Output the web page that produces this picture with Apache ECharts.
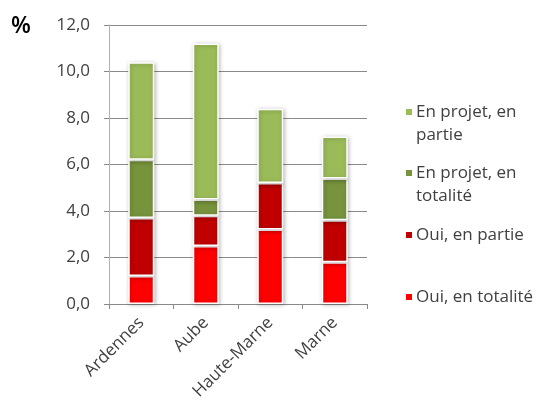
<!DOCTYPE html>
<html>
<head>
<meta charset="utf-8">
<script src="https://cdn.jsdelivr.net/npm/echarts@6/dist/echarts.min.js"></script>
<style>
  html, body { margin: 0; padding: 0; background: #fff; }
  #chart { width: 542px; height: 406px; }
</style>
</head>
<body>
<div id="chart"></div>
<script>
// Départements
const categories = ['Ardennes', 'Aube', 'Haute-Marne', 'Marne'];

// Parts (%) par statut, empilées du bas vers le haut
const ouiTotalite = [1.2, 2.5, 3.2, 1.8];
const ouiPartie = [2.5, 1.3, 2.0, 1.8];
const projetTotalite = [2.5, 0.7, 0, 1.8];
const projetPartie = [4.2, 6.7, 3.2, 1.8];

// Graduations de l'axe vertical
const yTicks = [0, 2, 4, 6, 8, 10, 12];

// Libellés de légende sur deux lignes
const legendLines = {
  'En projet, en partie': ['En projet, en', 'partie'],
  'En projet, en totalité': ['En projet, en', 'totalité'],
  'Oui, en partie': ['Oui, en partie'],
  'Oui, en totalité': ['Oui, en totalité']
};

const FONT = 'Open Sans';
const TEXT_COLOR = '#404040';
const LINE_H = 23;

function barSeries(name, data, color) {
  return {
    name: name,
    type: 'bar',
    stack: 'total',
    data: data,
    barWidth: 26,
    itemStyle: {
      color: color,
      borderColor: '#ffffff',
      borderWidth: 1.5,
      shadowColor: 'rgba(0,0,0,0.25)',
      shadowBlur: 4,
      shadowOffsetX: 1,
      shadowOffsetY: 1
    }
  };
}

// One legend block per series; a leading blank line keeps the swatch
// level with the first line of a two-line label.
function legendFor(name, firstLineY) {
  const lines = legendLines[name];
  const twoLines = lines.length > 1;
  const blockH = (twoLines ? 3 : 1) * LINE_H;
  return {
    left: 404,
    top: firstLineY - blockH / 2,
    padding: 0,
    orient: 'vertical',
    data: [name],
    icon: 'rect',
    itemWidth: 8,
    itemHeight: 8,
    itemGap: 0,
    selectedMode: false,
    formatter: function () {
      return twoLines ? '\n' + lines.join('\n') : lines[0];
    },
    textStyle: {
      fontFamily: FONT,
      fontSize: 17,
      color: TEXT_COLOR,
      lineHeight: LINE_H,
      padding: [0, 0, 0, -2]
    }
  };
}

const chart = echarts.init(document.getElementById('chart'), null, { renderer: 'canvas' });

chart.setOption({
  animation: false,
  backgroundColor: '#ffffff',
  grid: { left: 109, right: 175, top: 25, bottom: 102, containLabel: false },
  title: {
    text: '%',
    left: 6,
    top: 10,
    textStyle: { fontFamily: FONT, fontSize: 23, fontWeight: 600, color: '#000' }
  },
  xAxis: {
    type: 'category',
    data: categories,
    axisLine: { show: true, lineStyle: { color: '#8a8a8a', width: 1 } },
    axisTick: { show: true, length: 5, lineStyle: { color: '#8a8a8a' } },
    axisLabel: {
      rotate: 45,
      margin: 16,
      fontFamily: FONT,
      fontSize: 17,
      color: TEXT_COLOR
    }
  },
  yAxis: {
    type: 'value',
    min: yTicks[0],
    max: yTicks[yTicks.length - 1],
    interval: 2,
    axisLine: { show: true, lineStyle: { color: '#b0b0b0', width: 1 } },
    axisTick: { show: true, inside: false, length: 5, lineStyle: { color: '#8a8a8a' } },
    splitLine: { show: true, lineStyle: { color: '#8a8a8a', width: 1 } },
    axisLabel: {
      margin: 19,
      fontFamily: FONT,
      fontSize: 17,
      color: TEXT_COLOR,
      formatter: function (v) { return v.toFixed(1).replace('.', ','); }
    }
  },
  legend: [
    legendFor('En projet, en partie', 112),
    legendFor('En projet, en totalité', 173),
    legendFor('Oui, en partie', 235),
    legendFor('Oui, en totalité', 297)
  ],
  series: [
    barSeries('Oui, en totalité', ouiTotalite, '#FF0000'),
    barSeries('Oui, en partie', ouiPartie, '#C00000'),
    barSeries('En projet, en totalité', projetTotalite, '#77933C'),
    barSeries('En projet, en partie', projetPartie, '#9BBB59')
  ]
});
</script>
</body>
</html>
